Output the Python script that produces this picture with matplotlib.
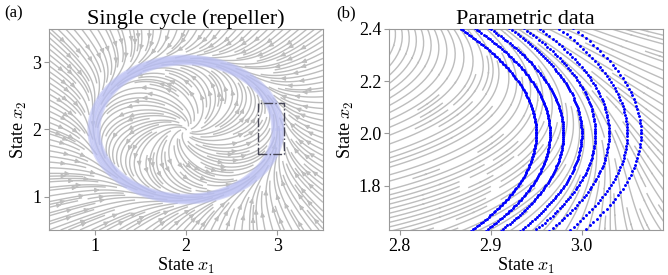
import numpy as np
import matplotlib.pyplot as plt
from matplotlib.patches import Rectangle

plt.rcParams['font.family'] = ['Liberation Serif', 'DejaVu Serif']
plt.rcParams['mathtext.fontset'] = 'cm'

# limit cycle system parameters (centre, axes, rates)
centre = [2.0, 2.0]
axes_xy = [1.0, 1.03]
radial_rate = 2.0
angular_rate = 1.0
drift = [0.35, -0.25]

# parametric cycles: radius scale and number of samples
cycle_scale = [0.95, 0.965, 0.98, 1.0, 1.015, 1.03, 1.05, 1.065]
cycle_points = [1000, 950, 900, 800, 700, 650, 580, 520]

# zoom box
box_x = [2.79, 3.07]
box_y = [1.63, 2.4]


def field(X, Y):
    u = (X - centre[0]) / axes_xy[0]
    v = (Y - centre[1]) / axes_xy[1]
    r2 = u**2 + v**2
    out = np.clip(r2 - 1, 0, None)
    du = -radial_rate * u * (r2 - 1) - angular_rate * v + drift[0] * out**1.5
    dv = -radial_rate * v * (r2 - 1) + angular_rate * u + drift[1] * out**1.5
    return du * axes_xy[0], dv * axes_xy[1]


fig = plt.figure(figsize=(6.68, 2.75), dpi=100)
ax1 = fig.add_axes([0.0734, 0.1636, 0.410, 0.731])
ax2 = fig.add_axes([0.582, 0.1636, 0.410, 0.731])

gray = '#bdbdbd'

x = np.linspace(0.5, 3.5, 200)
y = np.linspace(0.5, 3.5, 200)
X, Y = np.meshgrid(x, y)
U, V = field(X, Y)
ax1.streamplot(X, Y, U, V, density=2.4, color=gray, linewidth=1.0,
               arrowsize=0.6)

for s, n in zip(cycle_scale, cycle_points):
    t = np.linspace(0, 2 * np.pi, n)
    cx = centre[0] + s * axes_xy[0] * np.cos(t)
    cy = centre[1] + s * axes_xy[1] * np.sin(t)
    ax1.plot(cx, cy, color='#b8bdf2', lw=2.0, alpha=0.55, zorder=3)

ax1.add_patch(Rectangle((box_x[0], box_y[0]), box_x[1] - box_x[0],
                        box_y[1] - box_y[0], fill=False, ls='-.',
                        ec='#444455', lw=1.0, zorder=4))
ax1.set_xlim(0.5, 3.5)
ax1.set_ylim(0.5, 3.5)
ax1.set_xticks([1, 2, 3])
ax1.set_yticks([1, 2, 3])
ax1.set_title('Single cycle (repeller)', fontsize=16, pad=3)
ax1.set_xlabel('State $x_1$', fontsize=13, labelpad=1)
ax1.set_ylabel('State $x_2$', fontsize=13, labelpad=2)

x = np.linspace(2.78, 3.1, 200)
y = np.linspace(1.6, 2.42, 200)
X, Y = np.meshgrid(x, y)
U, V = field(X, Y)
ax2.streamplot(X, Y, U, V, density=1.6, color=gray, linewidth=1.0,
               arrowsize=0.01)

for s, n in zip(cycle_scale, cycle_points):
    t = np.linspace(0, 2 * np.pi, n)
    cx = centre[0] + s * axes_xy[0] * np.cos(t)
    cy = centre[1] + s * axes_xy[1] * np.sin(t)
    ax2.plot(cx, cy, ls='none', marker='.', ms=2.2, color='blue', zorder=3)

ax2.set_xlim(2.788, 3.089)
ax2.set_ylim(1.63, 2.4)
ax2.set_xticks([2.8, 2.9, 3.0])
ax2.set_yticks([1.8, 2.0, 2.2, 2.4])
ax2.set_title('Parametric data', fontsize=16, pad=3)
ax2.set_xlabel('State $x_1$', fontsize=13, labelpad=1)
ax2.set_ylabel('State $x_2$', fontsize=13, labelpad=2)

for ax in (ax1, ax2):
    for sp in ax.spines.values():
        sp.set_color('#999999')
    ax.tick_params(colors='#999999', labelcolor='black', labelsize=13,
                   length=3.5, pad=2)

fig.text(0.006, 0.935, '(a)', fontsize=12)
fig.text(0.503, 0.935, '(b)', fontsize=12)

fig.savefig('out.png', dpi=100)
